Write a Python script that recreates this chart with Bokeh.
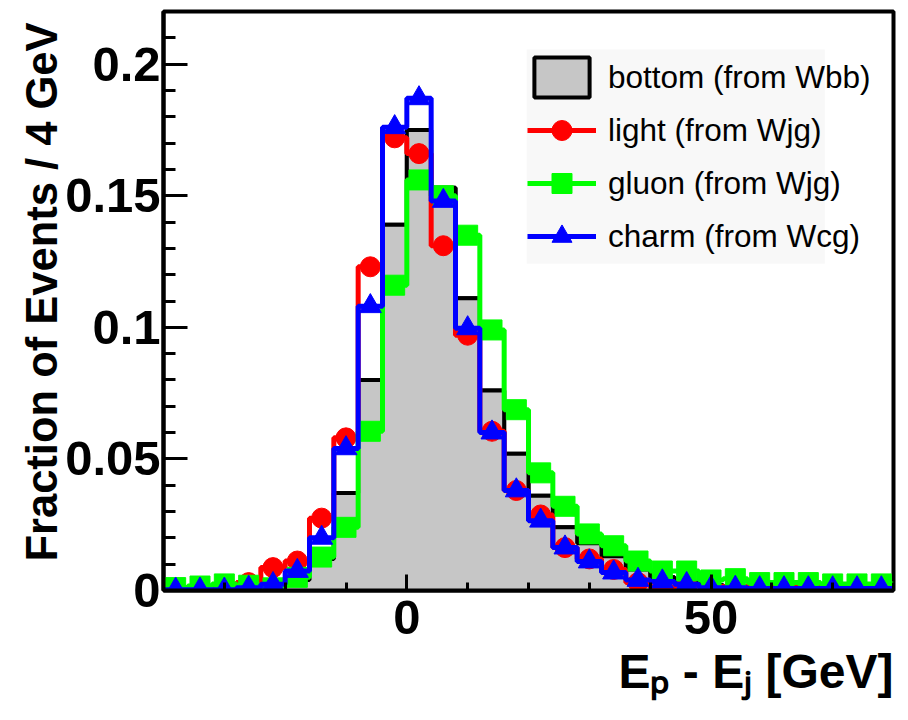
from bokeh.plotting import figure
from bokeh.models import (FixedTicker, Legend, LegendItem, BoxAnnotation, Range1d, Title)
from bokeh.embed import file_html
from bokeh.resources import INLINE

# ---------------- data (fraction of events per 4 GeV bin) ----------------
bin_edges = [-40, -36, -32, -28, -24, -20, -16, -12, -8, -4, 0, 4, 8, 12, 16,
             20, 24, 28, 32, 36, 40, 44, 48, 52, 56, 60, 64, 68, 72, 76, 80]

bottom_wbb = [0.0, 0.0, 0.0, 0.0005, 0.0015, 0.004, 0.012, 0.037, 0.080, 0.139,
              0.175, 0.153, 0.111, 0.076, 0.052, 0.036, 0.024, 0.018, 0.013, 0.008,
              0.005, 0.003, 0.002, 0.0015, 0.001, 0.001, 0.0008, 0.0005, 0.0005, 0.0003]

light_wjg = [0.0006, 0.001, 0.0012, 0.003, 0.0087, 0.0112, 0.0275, 0.058, 0.123, 0.172,
             0.166, 0.131, 0.097, 0.0605, 0.038, 0.0287, 0.0163, 0.012, 0.008, 0.003,
             0.001, 0.002, 0.0015, 0.0015, 0.002, 0.002, 0.0015, 0.002, 0.0015, 0.0015]

gluon_wjg = [0.0011, 0.0017, 0.0025, 0.002, 0.001, 0.005, 0.0127, 0.024, 0.0605, 0.116,
             0.156, 0.150, 0.135, 0.099, 0.0687, 0.0447, 0.032, 0.0215, 0.017, 0.0112,
             0.0074, 0.0074, 0.004, 0.0045, 0.003, 0.003, 0.003, 0.0025, 0.0025, 0.0025]

charm_wcg = [0.0003, 0.0003, 0.0003, 0.001, 0.0024, 0.0074, 0.020, 0.054, 0.108, 0.176,
             0.187, 0.148, 0.0996, 0.060, 0.038, 0.0265, 0.0163, 0.011, 0.0068, 0.004,
             0.0034, 0.0024, 0.001, 0.001, 0.0008, 0.0008, 0.0008, 0.0008, 0.0008, 0.0008]

legend_labels = ["bottom (from Wbb)", "light (from Wjg)", "gluon (from Wjg)", "charm (from Wcg)"]

x_major_ticks = [0, 50]
x_minor_ticks = [-40, -30, -20, -10, 10, 20, 30, 40, 60, 70, 80]
y_major_ticks = [0, 0.05, 0.1, 0.15, 0.2]
y_tick_labels = ["0", "0.05", "0.1", "0.15", "0.2"]
y_minor_ticks = [round(0.01 * i, 2) for i in range(23)]

x_title = "E\u209a - E\u2c7c [GeV]"
y_title = "Fraction of Events / 4 GeV"

# ---------------- style ----------------
FONT = "Liberation Sans"
GRAY = "#c6c6c6"
RED, GREEN, BLUE = "#ff0000", "#00ff00", "#0000ff"
W, H = 908, 720
FL, FR, FT, FB = 163, 893, 11, 590   # frame edges in canvas pixels

centers = [(a + b) / 2 for a, b in zip(bin_edges[:-1], bin_edges[1:])]


def step_y(vals):
    return list(vals) + [vals[-1]]


p = figure(width=W, height=H, x_range=Range1d(-40, 80), y_range=Range1d(0, 0.22),
           output_backend="svg", toolbar_location=None,
           min_border_left=FL, min_border_right=W - FR, min_border_top=FT,
           min_border_bottom=H - FB)
p.title.visible = False
p.xgrid.visible = False
p.ygrid.visible = False
p.background_fill_color = "white"
p.border_fill_color = "white"
p.outline_line_color = "black"
p.outline_line_width = 4

# legend background box (ROOT pave), drawn under everything
p.add_layout(BoxAnnotation(left=19.7, right=68.7, top=0.2056, bottom=0.1242,
                           fill_color="#f8f8f8", fill_alpha=1, line_color=None,
                           level="underlay"))

# bottom: gray filled histogram with black outline
r_bottom = p.quad(left=bin_edges[:-1], right=bin_edges[1:], top=bottom_wbb, bottom=0,
                  fill_color=GRAY, line_color="black", line_width=4)
p.varea_step(x=bin_edges, y1=[0] * len(bin_edges), y2=step_y(bottom_wbb),
             step_mode="after", fill_color=GRAY)
p.step(x=bin_edges, y=step_y(bottom_wbb), mode="after", line_color="black", line_width=4)

series = [(light_wjg, RED, "circle", 20), (gluon_wjg, GREEN, "square", 20),
          (charm_wcg, BLUE, "triangle", 22)]
items = [LegendItem(label=legend_labels[0], renderers=[r_bottom])]
for (vals, col, mk, sz), lab in zip(series, legend_labels[1:]):
    rl = p.step(x=bin_edges, y=step_y(vals), mode="after", line_color=col, line_width=5)
    rm = p.scatter(x=centers, y=vals, marker=mk, size=sz, fill_color=col, line_color=col)
    items.append(LegendItem(label=lab, renderers=[rl, rm]))

legend = Legend(items=items, location=(364, 329), orientation="vertical",
                glyph_width=69, glyph_height=50, label_height=50, spacing=3,
                padding=4, margin=0, label_standoff=12,
                background_fill_alpha=0, border_line_color=None,
                label_text_font=FONT, label_text_font_size="31.5px",
                label_text_color="black")
p.add_layout(legend)

# axes
p.xaxis.ticker = FixedTicker(ticks=x_major_ticks, minor_ticks=x_minor_ticks)
p.yaxis.ticker = FixedTicker(ticks=y_major_ticks, minor_ticks=y_minor_ticks)
p.yaxis.major_label_overrides = dict(zip(y_major_ticks, y_tick_labels))
for ax in (p.xaxis[0], p.yaxis[0]):
    ax.axis_line_width = 4
    ax.axis_line_color = "black"
    ax.major_tick_out = 0
    ax.minor_tick_out = 0
    ax.major_tick_line_width = 3
    ax.minor_tick_line_width = 3
    ax.major_tick_line_color = "black"
    ax.minor_tick_line_color = "black"
    ax.major_label_text_font = FONT
    ax.major_label_text_font_style = "bold"
    ax.major_label_text_font_size = "49px"
    ax.major_label_text_color = "black"
p.xaxis.major_tick_in = 16
p.xaxis.minor_tick_in = 8
p.xaxis.major_label_standoff = 10
p.yaxis.major_tick_in = 24
p.yaxis.minor_tick_in = 12
p.yaxis.major_label_standoff = 3

# axis titles (ROOT style: right aligned at the end of each axis)
p.add_layout(Title(text=x_title, align="right", vertical_align="bottom", offset=0,
                   standoff=12, text_font=FONT, text_font_style="bold",
                   text_font_size="48px", text_color="black"), "below")
p.add_layout(Title(text=y_title, align="right", vertical_align="bottom", offset=11,
                   standoff=-6, text_font=FONT, text_font_style="bold",
                   text_font_size="43.5px", text_color="black"), "left")

open("out.html", "w").write(file_html(p, INLINE))
